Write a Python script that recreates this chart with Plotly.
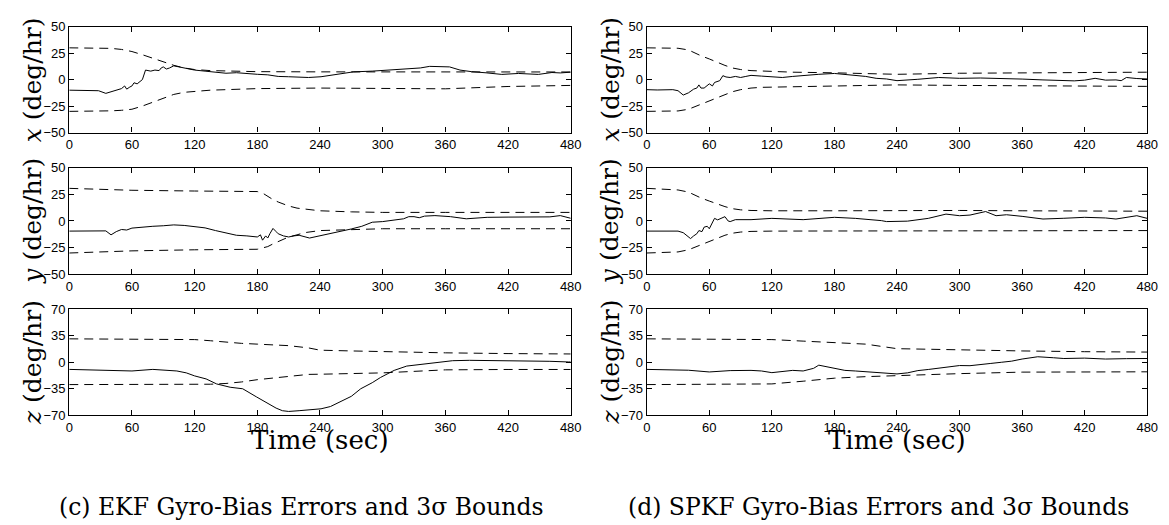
import plotly.graph_objects as go

W, H = 1169, 525

# ---------------- data ----------------
time_ticks = [0, 60, 120, 180, 240, 300, 360, 420, 480]
xy_ticks = [-50, -25, 0, 25, 50]
z_ticks = [-70, -35, 0, 35, 70]

# EKF x
ekf_x_bt = [0, 20, 40, 50, 60, 70, 80, 90, 100, 110, 120, 135, 150, 180, 240, 300, 360, 420, 480]
ekf_x_up = [30, 30, 29.5, 28.5, 26.5, 23.5, 20, 16.5, 13.5, 11, 9.5, 8.5, 8, 7.5, 7.3, 7.2, 7.2, 7.2, 7.2]
ekf_x_lo = [-30, -30, -29.5, -29, -28, -25, -21.5, -17.5, -14, -12, -11, -10, -9.5, -8.5, -8, -8.3, -8.7, -6.5, -5.5]
ekf_x_t = [0, 10, 20, 28, 35, 40, 45, 50, 53, 55, 58, 60, 62, 65, 70, 73, 78, 82, 86, 88, 90, 93, 96, 100, 105,
           110, 120, 130, 140, 150, 160, 170, 180, 190, 200, 210, 229, 241, 255, 272, 290, 304, 320, 336, 345,
           355, 364, 374, 385, 399, 414, 430, 449, 462, 470, 480]
ekf_x_e = [-10, -10, -9.8, -10.5, -13, -11.5, -9.5, -8.5, -6, -9, -7, -6, -3, -4, 0, 9, 8, 9, 8.5, 11, 12, 10, 11,
           13, 12, 11, 9, 8, 7, 6, 6.5, 5.5, 5, 4.5, 3, 2.7, 2, 2.7, 4.5, 7.3, 8, 9, 9.5, 11, 12.5, 12, 12, 9,
           7.5, 6.4, 4.9, 5.8, 4.9, 6.7, 6.3, 7]

# EKF y
ekf_y_bt = [0, 60, 120, 180, 186, 190, 195, 200, 205, 210, 218, 225, 240, 270, 300, 360, 420, 480]
ekf_y_up = [30.5, 28.7, 28, 27.5, 25.5, 23, 20, 17.7, 15.5, 14, 12, 11, 9.5, 8.5, 8, 8, 8, 8]
ekf_y_lo = [-30, -28, -27, -26.5, -25, -24, -21.5, -19.5, -17, -15, -13, -11, -9, -8, -7.3, -7.3, -7.3, -7.3]
ekf_y_t = [0, 20, 35, 40, 45, 50, 55, 60, 70, 80, 90, 100, 110, 120, 130, 140, 150, 160, 170, 180, 183, 185,
           188, 190, 192, 195, 198, 200, 205, 210, 215, 220, 230, 240, 250, 260, 270, 280, 290, 300, 310,
           320, 325, 330, 335, 340, 350, 365, 380, 400, 420, 440, 460, 470, 480]
ekf_y_e = [-9.5, -9.5, -9.3, -13, -10, -8, -8.5, -6.7, -5.5, -5, -4.5, -3.7, -4.2, -5, -6.5, -9, -11.5, -13.4,
           -14, -15, -13, -18, -14, -16, -12, -7, -10, -12, -14, -15, -14, -13.4, -16, -14, -12, -10, -7.5,
           -5, -1.2, -0.6, 0.5, 2, 4, 4, 3, 4.5, 5, 4, 2, 3.4, 3.6, 3.4, 3.8, 5, 2.5]

# EKF z
ekf_z_bt = [0, 60, 120, 135, 150, 165, 180, 195, 210, 229, 240, 270, 300, 330, 360, 420, 480]
ekf_z_up = [31, 31, 30, 28.5, 26.5, 25, 24, 23, 22, 19, 16, 15, 14, 13, 12.5, 11.5, 11]
ekf_z_lo = [-29.5, -29.5, -29.5, -29, -28, -26, -23, -21, -18.5, -16, -15.8, -15, -14, -12, -10, -9.5, -9.5]
ekf_z_t = [0, 30, 60, 80, 95, 103, 112, 120, 131, 141, 154, 166, 179, 192, 198, 204, 210, 220, 229, 241, 250,
           260, 270, 279, 290, 298, 311, 323, 335, 352, 367, 383, 400, 420, 440, 460, 478, 480]
ekf_z_e = [-9.4, -10, -11.5, -9.4, -10.5, -11.5, -14, -18, -22, -28.6, -33, -35, -45.6, -56, -60.6, -64, -65,
           -64, -63, -61.5, -58.5, -52, -45, -35, -27, -20, -10.7, -5, -3, -0.9, 2.1, 2.6, 2.4, 2.1, 1.5,
           1.3, 0.4, 0.4]

# SPKF x
spkf_x_bt = [0, 30, 40, 45, 52, 60, 68, 75, 82, 90, 100, 110, 140, 180, 220, 240, 300, 360, 420, 480]
spkf_x_up = [30, 29.6, 28, 25.6, 22.5, 19.5, 16, 13.4, 11, 9.5, 8.5, 8, 7, 6.4, 5.5, 5, 6, 6.5, 6.8, 7]
spkf_x_lo = [-30, -29.6, -28, -26, -23, -20, -17, -14, -11.5, -9.5, -8, -7.3, -6.8, -6.4, -5.5, -5, -5.5, -6, -6.2, -6.4]
spkf_x_t = [0, 10, 25, 30, 35, 40, 45, 48, 50, 52, 55, 58, 60, 63, 65, 70, 73, 76, 80, 85, 90, 95, 100, 110,
            120, 130, 140, 150, 165, 180, 190, 200, 210, 220, 230, 240, 250, 260, 280, 300, 320, 340, 360,
            380, 395, 410, 420, 430, 440, 450, 455, 460, 470, 480]
spkf_x_e = [-9.5, -9.8, -9.5, -10.5, -14.6, -12.5, -9, -8, -5, -8, -8, -5, -4, -6, -2.7, -1, 3.7, 2.5, 2, 3,
            2, 3, 4, 3.3, 2.7, 2, 3, 4, 5, 5.8, 5, 4.3, 3, 1.2, 0.6, -1, -0.5, 0.3, 2, 1.2, 1.5, 1.2, 0.5,
            -0.3, -0.5, -1.2, -0.5, 1.2, -0.5, -0.3, -1, 2, 1, 0.6]

# SPKF y
spkf_y_bt = [0, 30, 40, 45, 52, 60, 68, 75, 82, 90, 100, 120, 180, 240, 300, 360, 420, 480]
spkf_y_up = [30.5, 29, 27, 24.7, 21.5, 18.6, 15.5, 13.4, 11.5, 10.4, 9.8, 9.5, 9.5, 9.8, 9.8, 9.5, 9.3, 9.1]
spkf_y_lo = [-30, -29, -27, -25, -22, -19.5, -16, -13.4, -11.5, -10.4, -9.8, -9.5, -9.4, -9.5, -9.4, -9.2, -9.1, -9]
spkf_y_t = [0, 15, 30, 35, 42, 45, 48, 50, 53, 55, 58, 60, 63, 65, 68, 70, 73, 75, 78, 80, 85, 90, 100, 120,
            150, 180, 200, 225, 230, 250, 270, 287, 300, 310, 320, 325, 335, 345, 360, 380, 400, 420, 440,
            450, 470, 480]
spkf_y_e = [-9.5, -9.8, -9.5, -11, -16.5, -14, -12, -9, -10, -5.8, -5, -7.3, -1.2, 2.4, 1, 1.8, 2.5, 4, 0,
            -0.6, 1.2, 1, 1.2, 2.4, 1.2, 3.4, 2.4, 0.3, -0.6, -0.2, 2.4, 6.4, 4.9, 5.5, 8, 8.8, 4.9, 5.8, 4.3,
            1.8, 2.5, 3.4, 2.8, 1.8, 4.9, 2.4]

# SPKF z
spkf_z_bt = [0, 60, 120, 150, 180, 210, 240, 300, 360, 420, 480]
spkf_z_up = [31, 31, 30, 28, 26, 24, 18, 16, 15, 14, 13.5]
spkf_z_lo = [-29.5, -29.5, -28.6, -25, -21, -19, -17.5, -15, -13, -12.8, -12.6]
spkf_z_t = [0, 20, 40, 60, 80, 100, 110, 120, 130, 140, 150, 160, 165, 170, 175, 190, 200, 210, 220, 229,
            240, 250, 260, 270, 280, 290, 300, 310, 320, 330, 340, 350, 360, 375, 390, 400, 420, 440, 460, 480]
spkf_z_e = [-9.4, -10, -10.5, -12.8, -11, -10.7, -11.5, -13.7, -12, -10.7, -11.5, -8, -3.8, -5, -6.4, -10.7,
            -11.5, -12.4, -13, -13.7, -15.4, -14, -11, -9.5, -7.7, -6, -4.3, -4.5, -2.6, -1.5, 0, 1.5, 4.3,
            7.3, 6, 5, 5.5, 4.3, 4.8, 5]

panels = [
    # (row, col, bound_t, upper, lower, t, err, yticks, label)
    (1, 1, ekf_x_bt, ekf_x_up, ekf_x_lo, ekf_x_t, ekf_x_e, xy_ticks, "x"),
    (2, 1, ekf_y_bt, ekf_y_up, ekf_y_lo, ekf_y_t, ekf_y_e, xy_ticks, "y"),
    (3, 1, ekf_z_bt, ekf_z_up, ekf_z_lo, ekf_z_t, ekf_z_e, z_ticks, "z"),
    (1, 2, spkf_x_bt, spkf_x_up, spkf_x_lo, spkf_x_t, spkf_x_e, xy_ticks, "x"),
    (2, 2, spkf_y_bt, spkf_y_up, spkf_y_lo, spkf_y_t, spkf_y_e, xy_ticks, "y"),
    (3, 2, spkf_z_bt, spkf_z_up, spkf_z_lo, spkf_z_t, spkf_z_e, z_ticks, "z"),
]
captions = ["(c) EKF Gyro-Bias Errors and 3σ Bounds", "(d) SPKF Gyro-Bias Errors and 3σ Bounds"]

# ---------------- layout geometry (pixels) ----------------
col_px = {1: (58, 566), 2: (643, 1150)}
row_px = {1: (12, 121), 2: (157, 267), 3: (303, 412)}

fig = go.Figure()
layout = dict(
    width=W, height=H, margin=dict(l=0, r=0, t=0, b=0),
    paper_bgcolor="white", plot_bgcolor="white", showlegend=False,
    font=dict(family="Liberation Sans, Arial, sans-serif", size=13, color="black"),
)
annotations = []

serif = "DejaVu Serif, Liberation Serif, serif"
for i, (r, c, bt, up, lo, t, e, yt, lab) in enumerate(panels):
    n = i + 1
    xa = "x" if n == 1 else f"x{n}"
    ya = "y" if n == 1 else f"y{n}"
    dash = dict(color="black", width=1, dash="9px,6px")
    fig.add_trace(go.Scatter(x=bt, y=up, mode="lines", line=dash, xaxis=xa, yaxis=ya))
    fig.add_trace(go.Scatter(x=bt, y=lo, mode="lines", line=dash, xaxis=xa, yaxis=ya))
    fig.add_trace(go.Scatter(x=t, y=e, mode="lines", line=dict(color="black", width=1),
                             xaxis=xa, yaxis=ya))
    x0, x1 = col_px[c]
    y0, y1 = row_px[r]
    axcommon = dict(showgrid=False, zeroline=False, showline=True, linecolor="black", linewidth=1.2,
                    mirror="ticks", ticks="inside", ticklen=5, tickcolor="black", tickwidth=1)
    layout["xaxis" if n == 1 else f"xaxis{n}"] = dict(
        domain=[x0 / W, x1 / W], anchor=ya, range=[0, 480], tickmode="array",
        tickvals=time_ticks, ticktext=[str(v) for v in time_ticks], **axcommon)
    layout["yaxis" if n == 1 else f"yaxis{n}"] = dict(
        domain=[1 - y1 / H, 1 - y0 / H], anchor=xa, range=[yt[0], yt[-1]], tickmode="array",
        tickvals=yt, ticktext=[str(v).replace("-", "−") for v in yt], **axcommon)
    annotations.append(dict(
        text=f"<i>{lab}</i> (deg/hr)", textangle=-90, xref="paper", yref="paper",
        x=(x0 - 37) / W, y=1 - (y0 + y1) / 2 / H, xanchor="center", yanchor="middle",
        showarrow=False, font=dict(family=serif, size=25, color="black")))

for c, cap in zip([1, 2], captions):
    x0, x1 = col_px[c]
    annotations.append(dict(text="Time (sec)", xref="paper", yref="paper", x=(x0 + x1) / 2 / W,
                            y=1 - 437 / H, xanchor="center", yanchor="middle", showarrow=False,
                            font=dict(family=serif, size=26, color="black")))
annotations.append(dict(text=captions[0], xref="paper", yref="paper", x=293 / W, y=1 - 506 / H,
                        xanchor="center", yanchor="middle", showarrow=False,
                        font=dict(family=serif, size=23.5, color="black")))
annotations.append(dict(text=captions[1], xref="paper", yref="paper", x=878 / W, y=1 - 506 / H,
                        xanchor="center", yanchor="middle", showarrow=False,
                        font=dict(family=serif, size=23.5, color="black")))

layout["annotations"] = annotations
fig.update_layout(**layout)
fig.write_html("out.html")
